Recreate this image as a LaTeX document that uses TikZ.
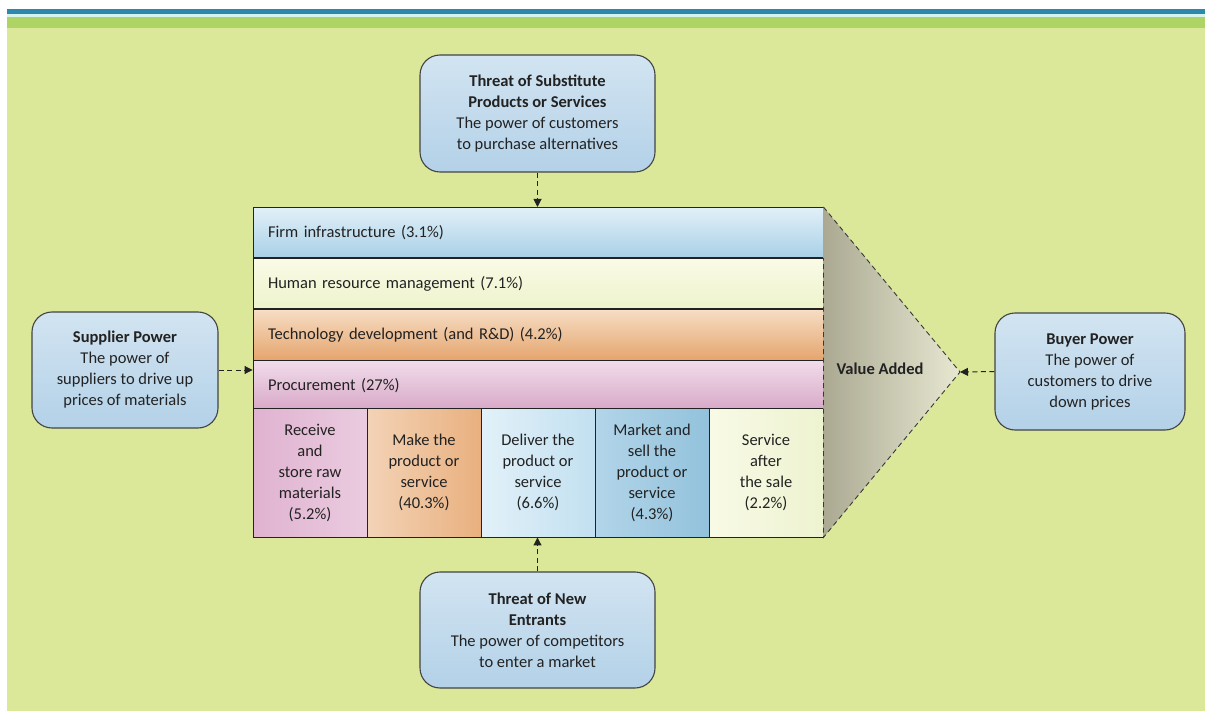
\documentclass[tikz,border=0pt]{standalone}
\usepackage{fontspec}
\setmainfont{Carlito}
\usetikzlibrary{arrows.meta}

% page bands and background
\definecolor{bandblue}{HTML}{2C89AD}
\definecolor{bandmint}{HTML}{D6F3EC}
\definecolor{bandgreen}{HTML}{AED466}
\definecolor{bggreen}{HTML}{DCE899}
\definecolor{ink}{HTML}{222222}
% force boxes
\definecolor{boxtop}{HTML}{D2E4F1}
\definecolor{boxbot}{HTML}{B3D1E8}
% support activity rows
\definecolor{infraT}{HTML}{E2F0F8}
\definecolor{infraB}{HTML}{A8D0E7}
\definecolor{hrT}{HTML}{F9FBE6}
\definecolor{hrB}{HTML}{EEF3CD}
\definecolor{techT}{HTML}{F6DDC4}
\definecolor{techB}{HTML}{E5A56E}
\definecolor{procT}{HTML}{F0DCEA}
\definecolor{procB}{HTML}{D8A7C7}
% primary activity columns
\definecolor{recvL}{HTML}{E0B3D1}
\definecolor{recvR}{HTML}{EACBDF}
\definecolor{makeL}{HTML}{F3D3B6}
\definecolor{makeR}{HTML}{E9B07F}
\definecolor{delivL}{HTML}{E2F1F9}
\definecolor{delivR}{HTML}{C2E0F0}
\definecolor{mktL}{HTML}{B2D5E9}
\definecolor{mktR}{HTML}{93C2DC}
\definecolor{servL}{HTML}{F8FAE6}
\definecolor{servR}{HTML}{EEF3D0}
% value added wedge
\definecolor{wedgeL}{HTML}{ABA992}
\definecolor{wedgeR}{HTML}{E8E8D2}

\tikzset{
  txt/.style={font=\fontsize{16.5}{21}\selectfont, text=ink},
  force/.style={txt, draw=ink!85, line width=1.1pt, rounded corners=20pt,
    top color=boxtop, bottom color=boxbot, align=center, inner sep=2pt},
  actrow/.style={txt, draw=ink, line width=0.9pt, minimum width=570pt,
    text width=540pt, inner xsep=15pt, align=left, minimum height=50.25pt,
    anchor=north},
  actcol/.style={txt, draw=ink, line width=0.9pt, minimum width=114pt,
    minimum height=129pt, align=center, inner sep=1pt},
  conn/.style={draw=ink, line width=1pt, dash pattern=on 5pt off 3.5pt,
    -{Triangle[length=8pt,width=8pt]}},
  wedgeline/.style={draw=ink!90, line width=0.9pt, dash pattern=on 5pt off 3.5pt}
}

\begin{document}
\begin{tikzpicture}[x=1pt,y=-1pt]
\useasboundingbox (0,0) rectangle (1205,711);
\fill[white] (0,0) rectangle (1205,711);
\fill[bggreen] (7,28) rectangle (1205,711);
\fill[bandgreen] (7,17.5) rectangle (1205,28);
\fill[bandmint] (7,14.5) rectangle (1205,17.5);
\fill[bandblue] (7,9) rectangle (1205,14.5);

% support activities
\node[actrow, top color=infraT, bottom color=infraB] (infra) at (538,207) {Firm infrastructure (3.1\%)};
\node[actrow, top color=hrT, bottom color=hrB] (hr) at (infra.south) {Human resource management (7.1\%)};
\node[actrow, top color=techT, bottom color=techB] (tech) at (hr.south) {Technology development (and R\&D) (4.2\%)};
\node[actrow, top color=procT, bottom color=procB] (proc) at (tech.south) {Procurement (27\%)};

% primary activities
\node[actcol, left color=recvL, right color=recvR] (recv) at (310,472.5) {Receive\\and\\store raw\\materials\\(5.2\%)};
\node[actcol, left color=makeL, right color=makeR] (make) at (424,472.5) {Make the\\product or\\service\\(40.3\%)};
\node[actcol, left color=delivL, right color=delivR] (deliv) at (538,472.5) {Deliver the\\product or\\service\\(6.6\%)};
\node[actcol, left color=mktL, right color=mktR] (mkt) at (652,472.5) {Market and\\sell the\\product or\\service\\(4.3\%)};
\node[actcol, left color=servL, right color=servR] (serv) at (766,472.5) {Service\\after\\the sale\\(2.2\%)};

% value added wedge
\coordinate (apex) at (960,372);
\shade[left color=wedgeL, right color=wedgeR] (infra.north east) -- (apex) -- (serv.south east) -- cycle;
\draw[wedgeline] (infra.north east) -- (apex) -- (serv.south east) -- (infra.south east);
\node[txt, font=\fontsize{16.5}{21}\selectfont\bfseries] (va) at (880,369) {Value Added};

% five forces
\node[force, minimum width=235pt, minimum height=117pt] (subst) at (537.5,113.5)
  {\textbf{Threat of Substitute}\\\textbf{Products or Services}\\The power of customers\\to purchase alternatives};
\node[force, minimum width=186pt, minimum height=116pt] (supp) at (125,370)
  {\textbf{Supplier Power}\\The power of\\suppliers to drive up\\prices of materials};
\node[force, minimum width=190pt, minimum height=117pt] (buyer) at (1090,371.5)
  {\textbf{Buyer Power}\\The power of\\customers to drive\\down prices};
\node[force, minimum width=235pt, minimum height=116pt] (entr) at (537.5,630)
  {\textbf{Threat of New}\\\textbf{Entrants}\\The power of competitors\\to enter a market};

% connectors
\draw[conn] (subst.south) -- (subst.south |- infra.north);
\draw[conn] (entr.north) -- (entr.north |- deliv.south);
\draw[conn] (supp.east) -- (supp.east -| proc.west);
\draw[conn] (buyer.west) -- (apex);
\end{tikzpicture}
\end{document}
